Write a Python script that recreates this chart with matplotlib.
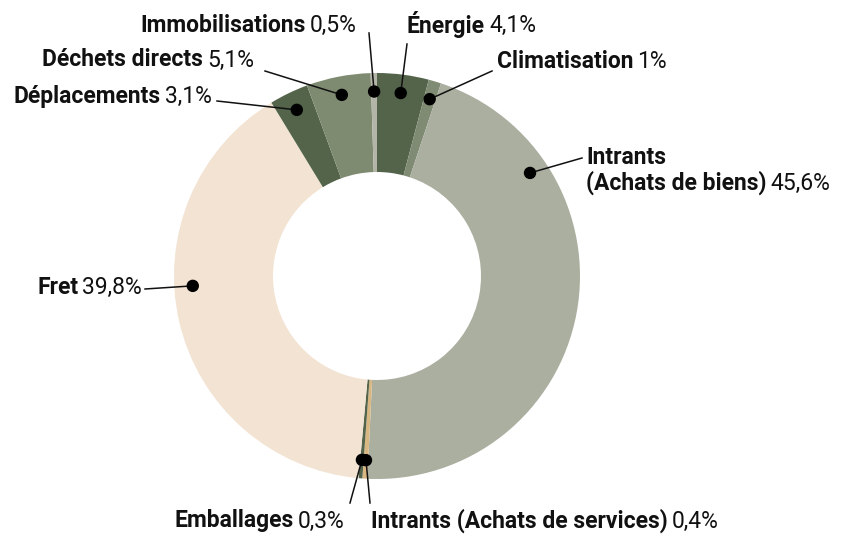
import numpy as np
import matplotlib.pyplot as plt
from matplotlib.patches import Circle

# parts of the footprint, clockwise from the top
labels = ["Énergie", "Climatisation", "Intrants\n(Achats de biens)",
          "Intrants (Achats de services)", "Emballages", "Fret",
          "Déplacements", "Déchets directs", "Immobilisations"]
values = [4.1, 1.0, 45.6, 0.4, 0.3, 39.8, 3.1, 5.1, 0.5]
colors = ["#53644b", "#7f8b73", "#abafa0", "#d8b782", "#53644b",
          "#f2e3d3", "#53644b", "#7f8b71", "#b3b5a9"]

W, H = 845, 540
CX, CY, R, RING = 377, 276, 203, 99


def Y(y):
    # image pixel row -> data y
    return H - y


# label layout in image pixels: text anchor, alignment, leader start, dot angle shift
layout = {
    "Énergie": dict(xy=(407, 25), ha="left", start=(407, 44), shift=0),
    "Climatisation": dict(xy=(497, 61), ha="left", start=(492, 71), shift=0),
    "Intrants\n(Achats de biens)": dict(xy=(586, 157), ha="left", start=(582, 158), shift=44.5),
    "Intrants (Achats de services)": dict(xy=(371, 521), ha="left", start=(370, 503), shift=0),
    "Emballages": dict(xy=(345, 521), ha="right", start=(350, 503), shift=0),
    "Fret": dict(xy=(142, 287), ha="right", start=(145, 289), shift=-10),
    "Déplacements": dict(xy=(212, 96), ha="right", start=(217, 101), shift=0),
    "Déchets directs": dict(xy=(254, 60), ha="right", start=(265, 71), shift=0),
    "Immobilisations": dict(xy=(357, 25), ha="right", start=(369, 33), shift=0),
}

fig = plt.figure(figsize=(W / 100, H / 100), dpi=100)
ax = fig.add_axes([0, 0, 1, 1])

wedges, _ = ax.pie(values, colors=colors, startangle=90, counterclock=False,
                   center=(CX, Y(CY)), radius=R,
                   wedgeprops=dict(width=RING, linewidth=0))
ax.set_xlim(0, W)
ax.set_ylim(0, H)
ax.set_aspect("equal")
ax.axis("off")

FONT = "Roboto"
SIZE = 16.5
INK = "#111111"
fig.canvas.draw()
rend = fig.canvas.get_renderer()


def txt_width(t):
    bb = t.get_window_extent(renderer=rend)
    return bb.width


def put_label(name, pct, x, y, ha):
    gap = 4
    if ha == "left":
        t = ax.text(x, Y(y), name, ha="left", va="center", fontsize=SIZE,
                    fontweight="bold", family=FONT, color=INK)
        w = txt_width(t)
        ax.text(x + w + gap, Y(y), pct, ha="left", va="center", fontsize=SIZE,
                fontweight="normal", family=FONT, color=INK)
    else:
        t = ax.text(x, Y(y), pct, ha="right", va="center", fontsize=SIZE,
                    fontweight="normal", family=FONT, color=INK)
        w = txt_width(t)
        ax.text(x - w - gap, Y(y), name, ha="right", va="center", fontsize=SIZE,
                fontweight="bold", family=FONT, color=INK)


for wd, name, v in zip(wedges, labels, values):
    spec = layout[name]
    ang = np.deg2rad((wd.theta1 + wd.theta2) / 2 + spec["shift"])
    r_dot = R - RING / 2 + 31
    dx, dy = CX + r_dot * np.cos(ang), Y(CY) + r_dot * np.sin(ang)
    sx, sy = spec["start"]
    ax.plot([sx, dx], [Y(sy), dy], color=INK, lw=1.1, zorder=3)
    ax.add_patch(Circle((dx, dy), 5.5, color="#000000", zorder=4))

    pct = f"{v:g}".replace(".", ",") + "%"
    x, y = spec["xy"]
    if "\n" in name:
        first, second = name.split("\n")
        ax.text(x, Y(y), first, ha="left", va="center", fontsize=SIZE,
                fontweight="bold", family=FONT, color=INK)
        put_label(second, pct, x, y + 26, "left")
    else:
        put_label(name, pct, x, y, spec["ha"])

fig.savefig("out.png", dpi=100)
